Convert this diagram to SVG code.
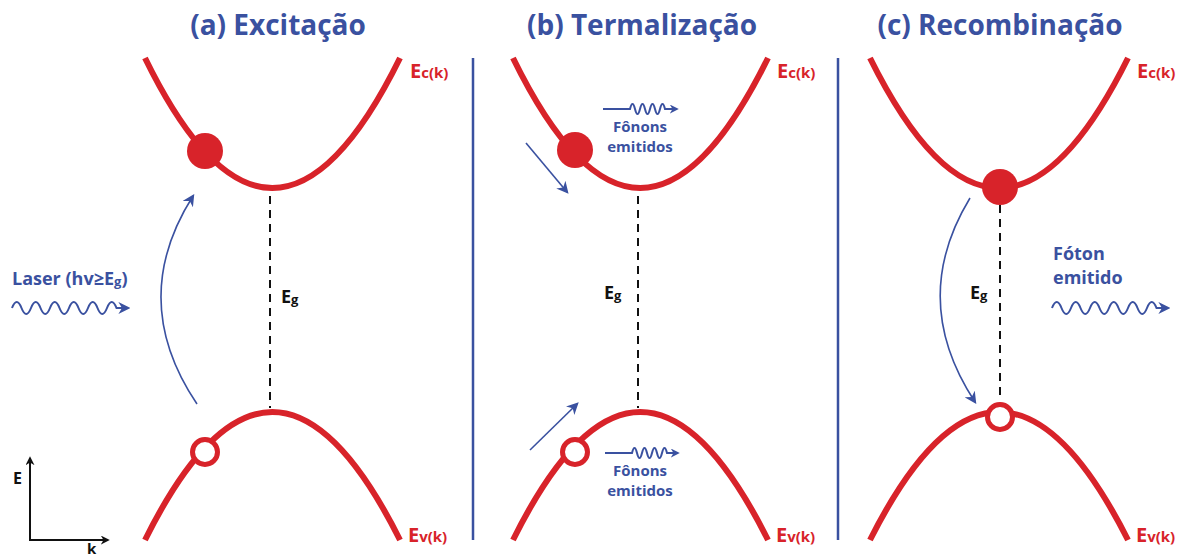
<svg xmlns="http://www.w3.org/2000/svg" width="1180" height="557" viewBox="0 0 1180 557">
<defs>
<style>
.band{fill:none;stroke:#d8232a;stroke-width:6;stroke-linecap:butt}
.el{fill:#d8232a}
.hole{fill:#fff;stroke:#d8232a;stroke-width:5}
.gap{stroke:#111;stroke-width:2;stroke-dasharray:8,6}
.div{stroke:#3a51a0;stroke-width:2.5}
.arr{fill:none;stroke:#3a51a0;stroke-width:1.6}
.wave{fill:none;stroke:#3a51a0;stroke-width:2}
.title{font-family:"Open Sans",sans-serif;font-weight:bold;font-size:28px;fill:#3a51a0;text-anchor:middle}
.lbl{font-family:"Open Sans",sans-serif;font-weight:bold;fill:#3a51a0}
.red{font-family:"Open Sans",sans-serif;font-weight:bold;fill:#d8232a}
.blk{font-family:"Open Sans",sans-serif;font-weight:bold;fill:#111}
</style>
<marker id="ah" viewBox="0 0 10 10" refX="8" refY="5" markerWidth="9" markerHeight="9" markerUnits="userSpaceOnUse" orient="auto">
<path d="M0,0 L10,5 L0,10 L3,5 Z" fill="#3a51a0"/>
</marker>
<marker id="ah2" viewBox="0 0 10 10" refX="8" refY="5" markerWidth="12" markerHeight="12" markerUnits="userSpaceOnUse" orient="auto">
<path d="M0,0 L10,5 L0,10 L3,5 Z" fill="#3a51a0"/>
</marker>
<marker id="ahk" viewBox="0 0 10 10" refX="8" refY="5" markerWidth="9" markerHeight="9" markerUnits="userSpaceOnUse" orient="auto">
<path d="M0,0 L10,5 L0,10 L3,5 Z" fill="#111"/>
</marker>
</defs>

<g id="titles">
<text class="title" x="278" y="35">(a) Excitação</text>
<text class="title" x="642" y="35">(b) Termalização</text>
<text class="title" x="1000" y="35">(c) Recombinação</text>
</g>

<g id="dividers">
<line class="div" x1="473" y1="58" x2="473" y2="540"/>
<line class="div" x1="838" y1="58" x2="838" y2="540"/>
</g>

<g id="panel-a">
<path class="band" d="M145,58 Q272,318 400,58"/>
<path class="band" d="M145,540 Q272,284 400,540"/>
<line class="gap" x1="270" y1="196" x2="270" y2="408"/>
<text class="blk" x="281" y="303" font-size="18">E<tspan font-size="13" dy="1">g</tspan></text>
<text class="red" x="410" y="78" font-size="20">E<tspan font-size="15">c(k)</tspan></text>
<text class="red" x="408" y="542" font-size="20">E<tspan font-size="15">v(k)</tspan></text>
</g>
<g id="electron-a"><circle class="el" cx="205" cy="151" r="18"/></g>
<g id="hole-a"><circle class="hole" cx="205" cy="452" r="12.5"/></g>

<g id="panel-b">
<path class="band" d="M513,58 Q640,318 768,58"/>
<path class="band" d="M513,540 Q640,284 768,540"/>
<line class="gap" x1="638" y1="196" x2="638" y2="408"/>
<text class="blk" x="604" y="299" font-size="18">E<tspan font-size="13" dy="1">g</tspan></text>
<text class="red" x="777" y="78" font-size="20">E<tspan font-size="15">c(k)</tspan></text>
<text class="red" x="776" y="542" font-size="20">E<tspan font-size="15">v(k)</tspan></text>
</g>
<g id="electron-b"><circle class="el" cx="575" cy="150" r="18"/></g>
<g id="hole-b"><circle class="hole" cx="575" cy="452" r="12.5"/></g>

<g id="panel-c">
<path class="band" d="M870,58 Q999,318 1128,58"/>
<path class="band" d="M870,540 Q999,284 1128,540"/>
<line class="gap" x1="1000" y1="205" x2="1000" y2="400"/>
<text class="blk" x="970" y="299" font-size="18">E<tspan font-size="13" dy="1">g</tspan></text>
<text class="red" x="1137" y="78" font-size="20">E<tspan font-size="15">c(k)</tspan></text>
<text class="red" x="1136" y="542" font-size="20">E<tspan font-size="15">v(k)</tspan></text>
</g>
<g id="electron-c"><circle class="el" cx="1000" cy="187" r="18"/></g>
<g id="hole-c"><circle class="hole" cx="1000" cy="417" r="12.5"/></g>

<g id="laser">
<text class="lbl" x="12" y="285" font-size="18">Laser (hv≥E<tspan font-size="13" dy="1">g</tspan><tspan dy="-1">)</tspan></text>
</g>
<g id="foton">
<text class="lbl" x="1053" y="260" font-size="18">Fóton</text>
<text class="lbl" x="1053" y="284" font-size="18">emitido</text>
</g>
<g id="fonons-top">
<text class="lbl" x="640" y="132" font-size="15" text-anchor="middle">Fônons</text>
<text class="lbl" x="640" y="152" font-size="15" text-anchor="middle">emitidos</text>
</g>
<g id="fonons-bottom">
<text class="lbl" x="640" y="476" font-size="15" text-anchor="middle">Fônons</text>
<text class="lbl" x="640" y="496" font-size="15" text-anchor="middle">emitidos</text>
</g>

<g id="axes">
<line x1="30" y1="540" x2="30" y2="458" stroke="#111" stroke-width="2" marker-end="url(#ahk)"/>
<line x1="29" y1="540" x2="108" y2="540" stroke="#111" stroke-width="2" marker-end="url(#ahk)"/>
<text class="blk" x="13" y="484" font-size="16">E</text>
<text class="blk" x="87" y="554" font-size="15">k</text>
</g>

<g id="connectors">
<path class="arr" d="M197,404 Q127,300 193,196" marker-end="url(#ah2)"/>
<path class="arr" d="M970,198 Q908,300 975,402" marker-end="url(#ah2)"/>
<line class="arr" x1="526" y1="143" x2="567" y2="192" marker-end="url(#ah2)"/>
<line class="arr" x1="530" y1="450" x2="577" y2="404" marker-end="url(#ah2)"/>
<path class="wave" d="M12,308 q4.75,-12 9.5,0 t9.5,0 t9.5,0 t9.5,0 t9.5,0 t9.5,0 t9.5,0 t9.5,0 t9.5,0 t9.5,0 t9.5,0 L128,308" marker-end="url(#ah2)"/>
<path class="wave" d="M1052,308 q4.75,-12 9.5,0 t9.5,0 t9.5,0 t9.5,0 t9.5,0 t9.5,0 t9.5,0 t9.5,0 t9.5,0 t9.5,0 t9.5,0 L1168,308" marker-end="url(#ah2)"/>
<path class="wave" d="M603,109 L630,109 q2.5,-10 5,0 t5,0 t5,0 t5,0 t5,0 t5,0 t5,0 L677,109" marker-end="url(#ah)"/>
<path class="wave" d="M605,453 L632,453 q2.5,-10 5,0 t5,0 t5,0 t5,0 t5,0 t5,0 t5,0 L678,453" marker-end="url(#ah)"/>
</g>
</svg>
